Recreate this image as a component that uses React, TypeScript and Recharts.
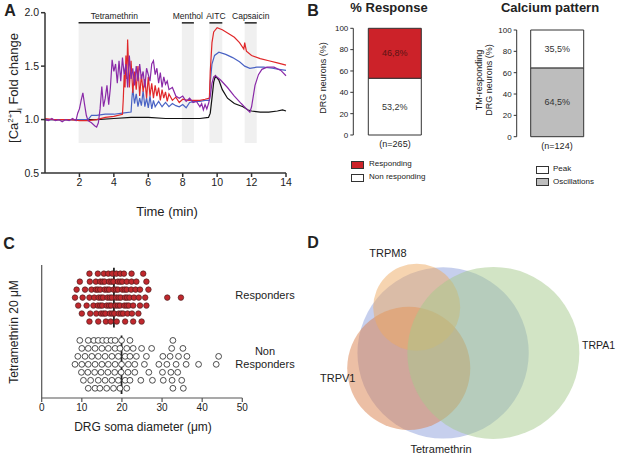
import React from 'react';
import {
  Bar,
  BarChart,
  LabelList,
  Line,
  LineChart,
  ReferenceArea,
  ReferenceLine,
  Scatter,
  ScatterChart,
  XAxis,
  YAxis,
  ZAxis,
} from 'recharts';

const FONT = '"Liberation Sans", Arial, sans-serif';

// ---- Panel A: calcium traces, [time (min), fold change]
const blackTrace = [
  [0, 1.0], [1, 1.0], [2, 1.0], [3, 1.0], [4, 1.01], [5, 1.02], [6, 1.02], [7, 1.01], [8, 1.01],
  [9, 1.01], [9.5, 1.02], [9.6, 1.06], [9.7, 1.2], [9.8, 1.35], [9.9, 1.41], [10.1, 1.37],
  [10.3, 1.28], [10.6, 1.2], [11, 1.15], [11.5, 1.12], [11.8, 1.09], [12, 1.08], [12.5, 1.07],
  [13, 1.07], [13.5, 1.08], [13.8, 1.09], [14, 1.08],
];
const redTrace = [
  [0, 1.01], [0.5, 1.0], [1, 1.0], [1.5, 1.0], [2, 0.99], [2.5, 0.99], [3, 1.0], [3.5, 1.02],
  [4, 1.03], [4.5, 1.05], [4.55, 1.2], [4.6, 1.42], [4.65, 1.3], [4.7, 1.6], [4.75, 1.38],
  [4.8, 1.75], [4.9, 1.3], [5.0, 1.55], [5.1, 1.25], [5.2, 1.45], [5.3, 1.28], [5.4, 1.5],
  [5.5, 1.22], [5.6, 1.42], [5.7, 1.26], [5.8, 1.38], [5.9, 1.2], [6.0, 1.4], [6.1, 1.22],
  [6.2, 1.34], [6.3, 1.2], [6.4, 1.32], [6.5, 1.22], [6.6, 1.3], [6.7, 1.18], [6.8, 1.28],
  [6.9, 1.2], [7.0, 1.26], [7.1, 1.17], [7.2, 1.24], [7.4, 1.18], [7.6, 1.21], [7.8, 1.16],
  [8.0, 1.19], [8.3, 1.18], [8.6, 1.18], [9.0, 1.18], [9.3, 1.19], [9.55, 1.2], [9.6, 1.45],
  [9.7, 1.72], [9.8, 1.82], [10.0, 1.86], [10.3, 1.84], [10.7, 1.8], [11.0, 1.77], [11.3, 1.72],
  [11.55, 1.66], [11.6, 1.72], [11.7, 1.64], [12.0, 1.6], [12.5, 1.57], [13.0, 1.55],
  [13.5, 1.53], [14.0, 1.51],
];
const blueTrace = [
  [0, 1.0], [1, 1.0], [2, 1.0], [2.5, 1.0], [2.7, 1.04], [3, 1.04], [3.5, 1.05], [4, 1.05],
  [4.5, 1.06], [5.0, 1.07], [5.05, 1.2], [5.1, 1.29], [5.2, 1.15], [5.3, 1.24], [5.4, 1.12],
  [5.5, 1.2], [5.6, 1.13], [5.7, 1.27], [5.8, 1.12], [5.9, 1.2], [6.0, 1.11], [6.1, 1.22],
  [6.2, 1.1], [6.3, 1.18], [6.4, 1.12], [6.6, 1.17], [6.8, 1.12], [7.0, 1.16], [7.2, 1.12],
  [7.4, 1.15], [7.6, 1.13], [7.8, 1.12], [8.0, 1.14], [8.2, 1.11], [8.4, 1.16], [8.7, 1.17],
  [9.0, 1.17], [9.3, 1.18], [9.55, 1.18], [9.6, 1.35], [9.7, 1.52], [9.85, 1.6], [10.1, 1.63],
  [10.5, 1.61], [10.9, 1.58], [11.3, 1.54], [11.6, 1.5], [11.9, 1.48], [12.3, 1.49],
  [12.7, 1.49], [13.2, 1.48], [13.6, 1.47], [14, 1.46],
];
const purpleTrace = [
  [0, 1.0], [0.2, 0.99], [0.4, 1.01], [0.6, 0.99], [0.8, 1.0], [1.0, 0.98], [1.2, 1.0],
  [1.4, 0.99], [1.6, 1.01], [1.8, 0.99], [1.9, 1.06], [2.0, 1.1], [2.1, 1.18], [2.2, 1.25],
  [2.3, 1.14], [2.4, 1.04], [2.5, 0.99], [2.7, 0.97], [2.9, 0.94], [3.0, 0.93], [3.1, 0.97],
  [3.2, 1.1], [3.3, 1.31], [3.4, 1.12], [3.5, 1.2], [3.6, 1.32], [3.7, 1.14], [3.8, 1.3],
  [3.9, 1.56], [4.0, 1.45], [4.1, 1.52], [4.2, 1.34], [4.3, 1.55], [4.4, 1.36], [4.5, 1.58],
  [4.6, 1.42], [4.7, 1.52], [4.8, 1.3], [4.9, 1.6], [5.0, 1.38], [5.1, 1.48], [5.2, 1.32],
  [5.3, 1.5], [5.4, 1.36], [5.5, 1.52], [5.6, 1.38], [5.7, 1.45], [5.8, 1.3], [5.9, 1.48],
  [6.0, 1.42], [6.1, 1.36], [6.2, 1.52], [6.3, 1.55], [6.4, 1.42], [6.5, 1.48], [6.6, 1.34],
  [6.7, 1.44], [6.8, 1.3], [6.9, 1.4], [7.0, 1.33], [7.1, 1.36], [7.2, 1.28], [7.4, 1.3],
  [7.6, 1.22], [7.8, 1.2], [8.0, 1.22], [8.2, 1.17], [8.4, 1.2], [8.6, 1.16], [8.8, 1.17],
  [9.0, 1.12], [9.1, 1.15], [9.2, 1.09], [9.3, 1.14], [9.4, 1.1], [9.5, 1.15], [9.6, 1.22],
  [9.7, 1.34], [9.8, 1.4], [9.9, 1.41], [10.2, 1.37], [10.6, 1.3], [11.0, 1.22], [11.4, 1.15],
  [11.7, 1.1], [11.9, 1.07], [12.0, 1.12], [12.1, 1.22], [12.2, 1.32], [12.4, 1.42],
  [12.6, 1.47], [12.9, 1.49], [13.3, 1.49], [13.7, 1.46], [14.0, 1.41],
];
const stimuli = [
  { name: 'Tetramethrin', start: 1.95, end: 6.1 },
  { name: 'Menthol', start: 7.95, end: 8.65 },
  { name: 'AITC', start: 9.55, end: 10.3 },
  { name: 'Capsaicin', start: 11.6, end: 12.3 },
];
const timeTicks = [2, 4, 6, 8, 10, 12, 14];
const foldTicks = [0.5, 1, 1.5, 2];

// ---- Panel B
const responseData = [{ name: '(n=265)', non: 53.2, resp: 46.8 }];
const patternData = [{ name: '(n=124)', osc: 64.5, peak: 35.5 }];
const pctTicks = [0, 20, 40, 60, 80, 100];

// ---- Panel C: soma diameters (µm), one list per row of the dot plot
const respondersRows = [
  [11.9, 14.0, 15.5, 16.6, 17.6, 18.6, 19.6, 20.5, 22.4, 25.3],
  [9.5, 12.0, 13.5, 14.6, 15.2, 15.7, 16.8, 17.4, 17.9, 19.0, 19.6, 20.1, 21.2, 22.4, 23.6, 26.1],
  [8.7, 10.8, 12.4, 13.5, 14.0, 14.6, 15.7, 16.3, 16.8, 17.9, 18.5, 19.0, 20.1, 20.7, 21.2, 22.3, 23.4, 24.5, 26.6],
  [8.3, 10.2, 11.9, 13.1, 14.2, 14.8, 15.3, 16.4, 17.0, 17.5, 18.6, 19.2, 19.7, 20.8, 21.3, 21.9, 23.0, 24.2, 25.8, 31.3, 34.7],
  [9.1, 11.2, 12.9, 14.0, 14.6, 15.1, 16.2, 16.8, 17.3, 18.4, 19.0, 19.5, 20.6, 21.2, 21.7, 22.8, 24.5, 26.1],
  [10.0, 12.1, 13.6, 14.8, 15.4, 15.9, 17.0, 17.6, 18.1, 19.2, 19.8, 20.3, 21.4, 22.5, 24.1],
  [11.9, 14.1, 16.0, 17.2, 18.7, 20.8, 22.8, 24.9],
];
const nonRespondersRows = [
  [9.5, 11.6, 13.0, 14.1, 15.2, 16.2, 17.3, 18.3, 19.9, 22.0, 32.7],
  [10.0, 11.6, 13.3, 15.0, 16.6, 18.3, 19.5, 21.2, 22.8, 24.9, 27.4, 32.4, 35.2],
  [9.0, 10.8, 12.5, 14.1, 15.8, 17.5, 19.1, 20.8, 22.0, 23.6, 26.1, 30.2, 32.0, 34.1, 36.2, 44.1],
  [8.3, 10.0, 11.6, 13.3, 15.0, 16.6, 18.3, 19.9, 21.6, 23.2, 25.6, 29.2, 31.2, 33.5, 36.0, 39.1, 43.5],
  [9.9, 11.5, 13.2, 14.8, 16.5, 18.2, 19.8, 21.5, 23.2, 26.7, 30.1, 32.2, 33.9],
  [10.4, 12.2, 14.1, 15.8, 17.5, 19.1, 20.8, 22.0, 24.7, 27.6, 30.3, 32.5, 34.9],
  [11.6, 13.3, 14.5, 16.2, 17.9, 19.5, 21.2, 32.7, 35.3],
];
const respondersMedian = 18;
const nonRespondersMedian = 19.9;
const diameterTicks = [0, 10, 20, 30, 40, 50];

// ---- Panel D: Venn sets (circle area ~ number of neurons)
const vennSets = [
  { name: 'Tetramethrin', n: 124, x: 45.0, y: 43.2, color: '#8d9fdb' },
  { name: 'TRPV1', n: 64, x: 34.2, y: 36.6, color: '#d9804c' },
  { name: 'TRPM8', n: 32, x: 36.7, y: 62.7, color: '#eeaa62' },
  { name: 'TRPA1', n: 125, x: 60.8, y: 43.2, color: '#a6c98b' },
];

const toPoints = (arr: number[][]) => arr.map(([t, v]) => ({ t, v }));

const rowsToPoints = (rows: number[][], center: number) =>
  rows.flatMap((row, i) => row.map((d) => ({ x: d, y: center + (3 - i) * 0.6 })));

const pct = (v: any) => `${Number(v).toFixed(1).replace('.', ',')}%`;

const Txt: React.FC<{ x: number; y: number; size?: number; bold?: boolean; rotate?: boolean; align?: 'left' | 'center'; children: React.ReactNode }> = ({
  x, y, size = 11, bold, rotate, align = 'center', children,
}) => (
  <div
    style={{
      position: 'absolute',
      left: x,
      top: y,
      transform: `translate(${align === 'center' ? '-50%' : '0'}, -50%)${rotate ? ' rotate(-90deg)' : ''}`,
      transformOrigin: align === 'center' ? 'center' : 'left center',
      fontSize: size,
      fontWeight: bold ? 'bold' : 'normal',
      whiteSpace: 'nowrap',
      color: '#222',
      lineHeight: 1.15,
      textAlign: 'center',
    }}
  >
    {children}
  </div>
);

const Box: React.FC<{ x: number; y: number; fill: string }> = ({ x, y, fill }) => (
  <div style={{ position: 'absolute', left: x, top: y, width: 11, height: 6, background: fill, border: '1px solid #333' }} />
);

const axisStroke = { stroke: '#333', strokeWidth: 1.5 };

const App: React.FC = () => {
  const responders = rowsToPoints(respondersRows, 7.55);
  const nonResponders = rowsToPoints(nonRespondersRows, 2.53);

  return (
    <div style={{ position: 'absolute', left: 0, top: 0, width: 618, height: 454, background: '#fff', fontFamily: FONT }}>
      {/* Panel A */}
      <div style={{ position: 'absolute', left: 0, top: 0 }}>
        <LineChart width={300} height={200} margin={{ top: 12.7, right: 14, bottom: 0, left: 0 }}>
          {stimuli.map((s) => (
            <ReferenceArea
              key={s.name}
              x1={s.start}
              x2={s.end}
              y1={0.78}
              y2={1.905}
              fill="#f0f0f0"
              fillOpacity={1}
              stroke="none"
              label={{ value: s.name, position: 'top', offset: 4, fontSize: 8.5, fill: '#222', fontFamily: FONT }}
            />
          ))}
          {stimuli.map((s) => (
            <ReferenceLine
              key={s.name + '-bar'}
              segment={[{ x: s.start, y: 1.905 }, { x: s.end, y: 1.905 }]}
              stroke="#222"
              strokeWidth={1.5}
            />
          ))}
          <XAxis
            type="number"
            dataKey="t"
            domain={[0, 14]}
            ticks={timeTicks}
            height={27}
            tickSize={4}
            axisLine={axisStroke}
            tickLine={axisStroke}
            tick={{ fontSize: 10.5, fill: '#222', fontFamily: FONT }}
          />
          <YAxis
            type="number"
            domain={[0.5, 2]}
            ticks={foldTicks}
            width={45}
            tickSize={4}
            tickFormatter={(v: number) => v.toFixed(1)}
            axisLine={axisStroke}
            tickLine={axisStroke}
            tick={{ fontSize: 10.5, fill: '#222', fontFamily: FONT }}
          />
          <Line data={toPoints(blackTrace)} dataKey="v" stroke="#111" strokeWidth={1.2} dot={false} isAnimationActive={false} />
          <Line data={toPoints(blueTrace)} dataKey="v" stroke="#4a63c4" strokeWidth={1.2} dot={false} isAnimationActive={false} />
          <Line data={toPoints(redTrace)} dataKey="v" stroke="#e0282a" strokeWidth={1.2} dot={false} isAnimationActive={false} />
          <Line data={toPoints(purpleTrace)} dataKey="v" stroke="#8a2aa8" strokeWidth={1.2} dot={false} isAnimationActive={false} />
        </LineChart>
      </div>
      <Txt x={10} y={11} size={16} bold>A</Txt>
      <Txt x={15} y={88} size={13} rotate>
        [Ca<sup style={{ fontSize: 8 }}>2+</sup>]<sub style={{ fontSize: 8 }}>i</sub> Fold change
      </Txt>
      <Txt x={167} y={212} size={13}>Time (min)</Txt>

      {/* Panel B */}
      <div style={{ position: 'absolute', left: 300, top: 20 }}>
        <BarChart width={150} height={150} data={responseData} margin={{ top: 8.3, right: 13.3, bottom: 0, left: 0 }} barSize={53}>
          <XAxis dataKey="name" height={35} axisLine={false} tickLine={false} tickSize={6} tickMargin={0} tick={{ fontSize: 9, fill: '#222', fontFamily: FONT }} />
          <YAxis domain={[0, 100]} ticks={pctTicks} width={53.3} tickSize={3} axisLine={{ stroke: '#333' }} tickLine={{ stroke: '#333' }} tick={{ fontSize: 8, fill: '#222', fontFamily: FONT }} />
          <Bar dataKey="non" stackId="a" fill="#fff" stroke="#333" strokeWidth={1} isAnimationActive={false}>
            <LabelList dataKey="non" position="center" formatter={pct} style={{ fontSize: 9, fill: '#333', fontFamily: FONT }} />
          </Bar>
          <Bar dataKey="resp" stackId="a" fill="#cc2229" stroke="#333" strokeWidth={1} isAnimationActive={false}>
            <LabelList dataKey="resp" position="center" formatter={pct} style={{ fontSize: 9, fill: '#5a1414', fontFamily: FONT }} />
          </Bar>
        </BarChart>
      </div>
      <div style={{ position: 'absolute', left: 460, top: 20 }}>
        <BarChart width={150} height={150} data={patternData} margin={{ top: 10, right: 12.7, bottom: 0, left: 0 }} barSize={53}>
          <XAxis dataKey="name" height={33.3} axisLine={false} tickLine={false} tickSize={6} tickMargin={0} tick={{ fontSize: 9, fill: '#222', fontFamily: FONT }} />
          <YAxis domain={[0, 100]} ticks={pctTicks} width={56.7} tickSize={3} axisLine={{ stroke: '#333' }} tickLine={{ stroke: '#333' }} tick={{ fontSize: 8, fill: '#222', fontFamily: FONT }} />
          <Bar dataKey="osc" stackId="a" fill="#bdbdbd" stroke="#333" strokeWidth={1} isAnimationActive={false}>
            <LabelList dataKey="osc" position="center" formatter={pct} style={{ fontSize: 9, fill: '#333', fontFamily: FONT }} />
          </Bar>
          <Bar dataKey="peak" stackId="a" fill="#fff" stroke="#333" strokeWidth={1} isAnimationActive={false}>
            <LabelList dataKey="peak" position="center" formatter={pct} style={{ fontSize: 9, fill: '#333', fontFamily: FONT }} />
          </Bar>
        </BarChart>
      </div>
      <Txt x={313} y={11} size={16} bold>B</Txt>
      <Txt x={389} y={8} size={13} bold>% Response</Txt>
      <Txt x={550} y={8} size={13} bold>Calcium pattern</Txt>
      <Txt x={323} y={78} size={9} rotate>DRG neurons (%)</Txt>
      <Txt x={484} y={80} size={9} rotate>TM-responding<br />DRG neurons (%)</Txt>
      <Box x={350.7} y={160.7} fill="#cc2229" />
      <Txt x={369} y={164} size={8} align="left">Responding</Txt>
      <Box x={350.7} y={174} fill="#fff" />
      <Txt x={369} y={177} size={8} align="left">Non responding</Txt>
      <Box x={535.7} y={165.7} fill="#fff" />
      <Txt x={553} y={169} size={8} align="left">Peak</Txt>
      <Box x={535.7} y={178.3} fill="#bdbdbd" />
      <Txt x={553} y={181.7} size={8} align="left">Oscillations</Txt>

      {/* Panel C */}
      <div style={{ position: 'absolute', left: 0, top: 255 }}>
        <ScatterChart width={300} height={175} margin={{ top: 10, right: 57.7, bottom: 0, left: 0 }}>
          <XAxis
            type="number"
            dataKey="x"
            domain={[0, 50]}
            ticks={diameterTicks}
            height={32}
            tickSize={4}
            axisLine={{ stroke: '#555', strokeWidth: 1.2 }}
            tickLine={{ stroke: '#555', strokeWidth: 1.2 }}
            tick={{ fontSize: 10, fill: '#222', fontFamily: FONT }}
          />
          <YAxis type="number" dataKey="y" domain={[0, 10]} width={41.7} tick={false} tickLine={false} axisLine={{ stroke: '#555', strokeWidth: 1.2 }} />
          <Scatter
            data={responders}
            isAnimationActive={false}
            shape={(p: any) => <circle cx={p.cx} cy={p.cy} r={2.8} fill="#c0282d" stroke="#3a1a1a" strokeWidth={0.6} />}
          />
          <Scatter
            data={nonResponders}
            isAnimationActive={false}
            shape={(p: any) => <circle cx={p.cx} cy={p.cy} r={2.9} fill="#fff" stroke="#222" strokeWidth={0.8} />}
          />
          <ReferenceLine segment={[{ x: respondersMedian, y: 9.8 }, { x: respondersMedian, y: 5.3 }]} stroke="#222" strokeWidth={1.8} />
          <ReferenceLine segment={[{ x: nonRespondersMedian, y: 4.7 }, { x: nonRespondersMedian, y: 0.3 }]} stroke="#222" strokeWidth={1.8} />
        </ScatterChart>
      </div>
      <Txt x={9} y={244} size={16} bold>C</Txt>
      <Txt x={15} y={332} size={12} rotate>Tetramethrin 20 μM</Txt>
      <Txt x={143} y={428} size={12}>DRG soma diameter (μm)</Txt>
      <Txt x={265} y={295} size={11}>Responders</Txt>
      <Txt x={265} y={358} size={11}>Non<br />Responders</Txt>

      {/* Panel D */}
      <div style={{ position: 'absolute', left: 300, top: 220 }}>
        <ScatterChart width={318} height={234} margin={{ top: 0, right: 0, bottom: 0, left: 0 }}>
          <XAxis type="number" dataKey="x" domain={[0, 100]} hide />
          <YAxis type="number" dataKey="y" domain={[0, 100]} hide />
          <ZAxis type="number" dataKey="n" domain={[0, 124]} range={[0, Math.PI * 86 * 86]} />
          {vennSets.map((s) => (
            <Scatter
              key={s.name}
              data={[s]}
              isAnimationActive={false}
              shape={(p: any) => <circle cx={p.cx} cy={p.cy} r={p.width / 2} fill={s.color} fillOpacity={0.5} stroke="none" />}
            />
          ))}
        </ScatterChart>
      </div>
      <Txt x={313} y={243} size={16} bold>D</Txt>
      <Txt x={388} y={253} size={11}>TRPM8</Txt>
      <Txt x={582} y={345} size={10.5} align="left">TRPA1</Txt>
      <Txt x={320} y={378} size={11} align="left">TRPV1</Txt>
      <Txt x={441} y={449} size={11}>Tetramethrin</Txt>
    </div>
  );
};

export default App;
